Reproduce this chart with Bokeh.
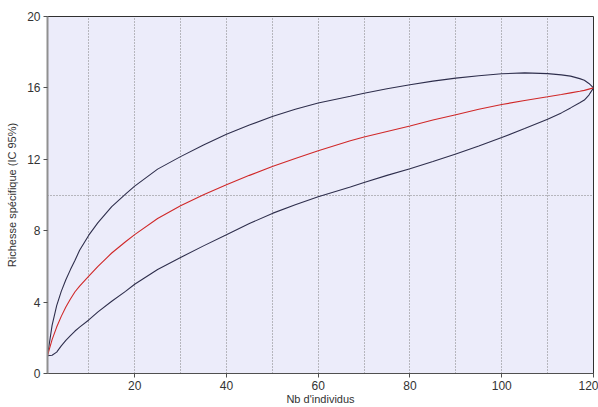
from bokeh.plotting import figure
from bokeh.models import FixedTicker, Range1d
from bokeh.embed import file_html
from bokeh.resources import INLINE

# Data
x_vals = [1, 2, 3, 4, 5, 6, 7, 8, 10, 12, 15, 18, 20, 25, 30, 35, 40, 45, 50, 55, 60, 67, 70, 75,
          80, 85, 90, 95, 100, 105, 110, 113, 115, 117, 118, 119, 120]
upper_vals = [1.0, 2.7, 3.8, 4.6, 5.25, 5.82, 6.35, 6.9, 7.75, 8.45, 9.35, 10.05, 10.5, 11.45, 12.15, 12.8,
              13.4, 13.92, 14.4, 14.8, 15.15, 15.53, 15.7, 15.95, 16.18, 16.38, 16.55, 16.68, 16.79,
              16.84, 16.8, 16.73, 16.66, 16.52, 16.43, 16.25, 16.0]
mean_vals = [1.0, 1.9, 2.6, 3.2, 3.72, 4.17, 4.58, 4.9, 5.45, 6.0, 6.75, 7.38, 7.78, 8.68, 9.4, 10.02,
             10.58, 11.1, 11.6, 12.05, 12.48, 13.04, 13.25, 13.56, 13.87, 14.2, 14.5, 14.8, 15.07,
             15.29, 15.5, 15.63, 15.72, 15.81, 15.86, 15.93, 16.0]
lower_vals = [1.0, 1.02, 1.2, 1.55, 1.85, 2.12, 2.38, 2.6, 3.0, 3.45, 4.05, 4.6, 5.0, 5.83, 6.5, 7.15,
              7.77, 8.4, 8.97, 9.45, 9.9, 10.45, 10.7, 11.1, 11.47, 11.88, 12.3, 12.75, 13.22,
              13.72, 14.24, 14.6, 14.88, 15.17, 15.32, 15.6, 16.0]

x_ticks = [20, 40, 60, 80, 100, 120]
y_ticks = [0, 4, 8, 12, 16, 20]
x_grid = [10, 20, 30, 40, 50, 60, 70, 80, 90, 100, 110]
y_grid = [10]

p = figure(width=598, height=407, output_backend="svg", toolbar_location=None,
           x_range=Range1d(1, 120), y_range=Range1d(0, 20),
           min_border_left=47, min_border_right=5, min_border_top=16, min_border_bottom=30)

p.background_fill_color = "#ececfa"
p.border_fill_color = "white"
p.outline_line_color = "#303030"
p.outline_line_width = 1

p.line(x_vals, upper_vals, line_color="#2e2e4c", line_width=1.1)
p.line(x_vals, lower_vals, line_color="#2e2e4c", line_width=1.1)
p.line(x_vals, mean_vals, line_color="#d02828", line_width=1.1)

p.xaxis.ticker = FixedTicker(ticks=x_ticks)
p.yaxis.ticker = FixedTicker(ticks=y_ticks)
p.xgrid.ticker = FixedTicker(ticks=x_grid)
p.ygrid.ticker = FixedTicker(ticks=y_grid)
for g in (p.xgrid, p.ygrid):
    g.grid_line_color = "#808080"
    g.grid_line_dash = "1 2"
    g.grid_line_width = 1

for ax in (p.xaxis, p.yaxis):
    ax.major_tick_in = 0
    ax.major_tick_out = 4
    ax.minor_tick_line_color = None
    ax.axis_line_color = "#505050"
    ax.major_tick_line_color = "#505050"
    ax.major_label_text_font = "Liberation Sans"
    ax.major_label_text_font_size = "12px"
    ax.major_label_text_color = "#333333"
    ax.axis_label_text_font = "Liberation Sans"
    ax.axis_label_text_font_size = "11px"
    ax.axis_label_text_font_style = "normal"
    ax.axis_label_text_color = "#333333"

p.yaxis.axis_line_color = "#909090"
p.yaxis.axis_line_width = 2
p.xaxis.axis_label = "Nb d'individus"
p.yaxis.axis_label = "Richesse spécifique (IC 95%)"
p.xaxis.major_label_standoff = 3
p.xaxis.axis_label_standoff = 0
p.yaxis.major_label_standoff = 3
p.yaxis.axis_label_standoff = 6

open("out.html", "w").write(file_html(p, INLINE))
